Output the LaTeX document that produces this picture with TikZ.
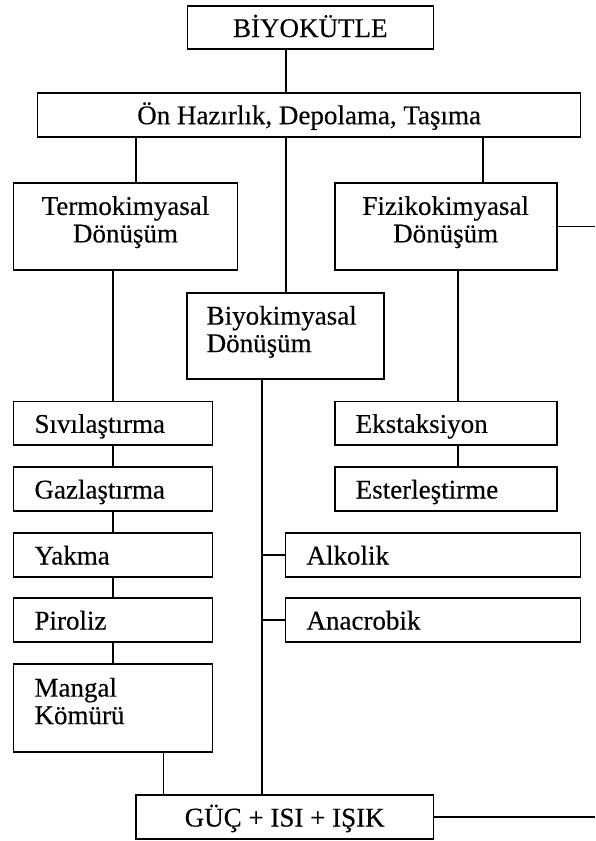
\documentclass[tikz,border=0pt]{standalone}
\usepackage{fontspec}
\setmainfont{Liberation Serif}[FakeBold=0.35]
\usetikzlibrary{calc}

\newcommand{\tailgap}{\rule[-14pt]{0pt}{0pt}}

\begin{document}
\begin{tikzpicture}[x=1pt,y=-1pt,
  every node/.style={font=\fontsize{27}{27.5}\selectfont},
  box/.style={draw,line width=1.6pt,inner sep=0pt},
  onebox/.style={box,text height=19pt,text depth=0pt},
  cbox/.style={onebox,align=center},
  lbox/.style={onebox,align=left,inner xsep=21pt,text width=#1,minimum height=43.5pt},
  wire/.style={line width=1.6pt}]
 \useasboundingbox (0,0) rectangle (595,841);
 \coordinate (edge) at (595,0);
 % ---- top
 \node[cbox,minimum width=246pt,minimum height=43pt] (bio) at (310.3,27.5) {BİYOKÜTLE};
 \node[cbox,minimum width=543pt,minimum height=44pt] (prep) at (309.1,114.7) {Ön Hazırlık, Depolama, Taşıma};
 % ---- conversion routes
 \node[box,align=center,minimum width=224pt,minimum height=87pt] (thermo) at (125.5,226.3) {Termokimyasal\\Dönüşüm\tailgap};
 \node[box,align=center,minimum width=222pt,minimum height=87pt] (physio) at (445.7,226.3) {Fizikokimyasal\\Dönüşüm\tailgap};
 \node[box,align=left,inner xsep=19.5pt,text width=158pt,minimum height=86.5pt] (biochem) at (285.7,336) {Biyokimyasal\\Dönüşüm\tailgap};
 % ---- thermochemical chain
 \node[lbox=157pt] (liquid) at (113,423.3) {Sıvılaştırma};
 \node[lbox=157pt] (gas) at (113,489) {Gazlaştırma};
 \node[lbox=157pt] (burn) at (113,555) {Yakma};
 \node[lbox=157pt] (pyro) at (113,620) {Piroliz};
 \node[box,align=left,inner xsep=21pt,text width=157pt,minimum height=87.7pt] (coal) at (113,708) {Mangal\\Kömürü\tailgap};
 % ---- physicochemical chain
 \node[lbox=180pt] (extract) at (445.7,423.3) {Ekstaksiyon};
 \node[lbox=180pt] (ester) at (445.7,489) {Esterleştirme};
 % ---- biochemical chain
 \node[lbox=253pt] (alcohol) at (433,555) {Alkolik};
 \node[lbox=253pt] (anaer) at (433,620) {Anacrobik};
 % ---- output
 \node[cbox,minimum width=297.4pt,minimum height=44pt] (power) at (284.7,817) {GÜÇ + ISI + IŞIK};
 % ---- connectors
 \draw[wire] (biochem.north |- bio.south) -- (biochem.north |- prep.north);
 \draw[wire] ([xshift=10.5pt]thermo.north) -- ([xshift=10.5pt]thermo.north |- prep.south);
 \draw[wire] (biochem.north) -- (biochem.north |- prep.south);
 \draw[wire] ([xshift=37.3pt]physio.north) -- ([xshift=37.3pt]physio.north |- prep.south);
 \draw[wire] (liquid.north) -- (liquid.north |- thermo.south);
 \draw[wire] (liquid) -- (gas) (gas) -- (burn) (burn) -- (pyro) (pyro) -- (coal);
 \draw[wire] ([xshift=12.3pt]extract.north) -- ([xshift=12.3pt]extract.north |- physio.south);
 \draw[wire] ([xshift=12.3pt]extract.south) -- ([xshift=12.3pt]ester.north);
 \draw[wire] ([xshift=-24pt]biochem.south) coordinate (bdrop) -- (bdrop |- power.north);
 \draw[wire] (alcohol.west) -- (alcohol.west -| bdrop);
 \draw[wire] (anaer.west) -- (anaer.west -| bdrop);
 \draw[wire] ([xshift=50.6pt]coal.south) -- ([xshift=50.6pt]coal.south |- power.north);
 \draw[wire] (physio.east) -- (physio.east -| edge);
 \draw[wire] (power.east) -- (power.east -| edge);
\end{tikzpicture}
\end{document}
